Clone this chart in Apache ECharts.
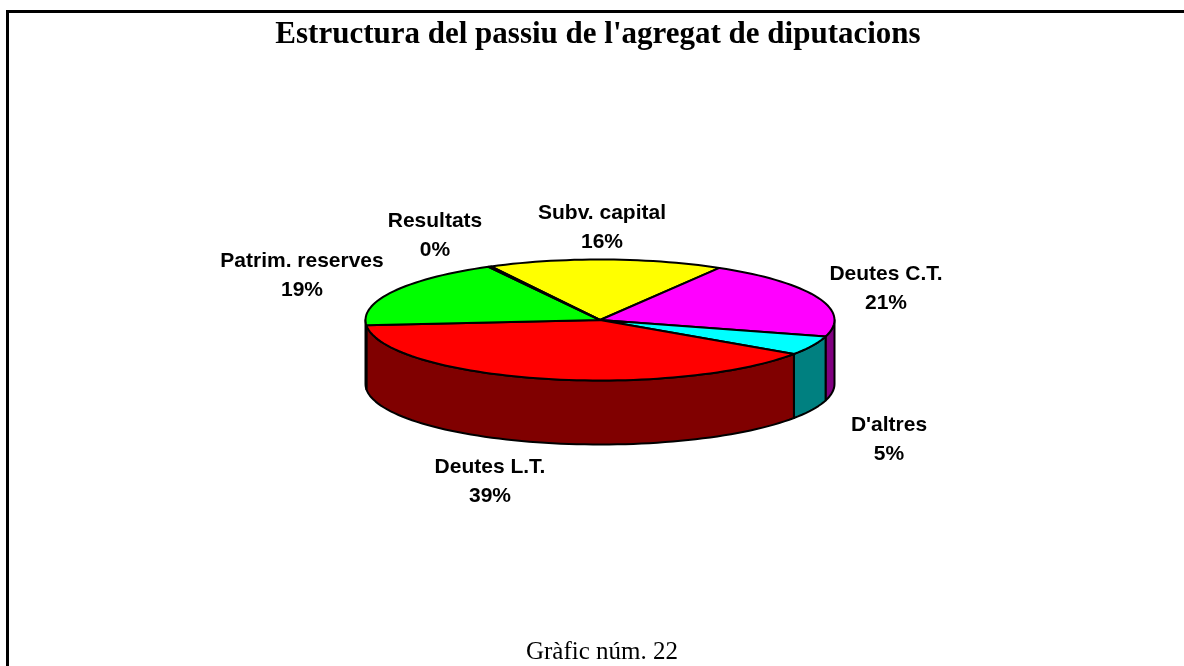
<!DOCTYPE html>
<html>
<head>
<meta charset="utf-8">
<style>
    html, body { margin: 0; padding: 0; background: #fff; }
    #main { width: 1184px; height: 666px; }
</style>
<script src="https://cdn.jsdelivr.net/npm/echarts@6/dist/echarts.min.js"></script>
</head>
<body>
<div id="main"></div>
<script>
    var categories = ['Subv. capital', 'Deutes C.T.', "D'altres", 'Deutes L.T.', 'Patrim. reserves', 'Resultats'];
    var values = [16.2, 20.9, 5.1, 39.1, 18.5, 0.2];
    var topColors = ['#ffff00', '#ff00ff', '#00ffff', '#ff0000', '#00ff00', '#ffffff'];
    var sideColors = ['#808000', '#800080', '#008080', '#800000', '#008000', '#808080'];

    // where each label sits: centre x, centre y of the first line
    var labelPlaces = [[602, 211], [886, 272], [889, 423], [490, 465], [302, 259], [435, 219]];

    var cx = 600, cy = 320, rx = 234.5, ry = 60.5, depth = 64;
    var startAngle = -27.7;
    var total = values.reduce(function (a, b) { return a + b; }, 0);

    // angle is clockwise from the top of the pie
    function rimPoint(deg, drop) {
        var a = deg * Math.PI / 180;
        return [cx + rx * Math.sin(a), cy - ry * Math.cos(a) + drop];
    }

    function arcPoints(from, to, drop) {
        var pts = [];
        var n = Math.max(2, Math.ceil((to - from) / 2));
        for (var i = 0; i <= n; i++) {
            pts.push(rimPoint(from + (to - from) * i / n, drop));
        }
        return pts;
    }

    function renderSlice(params, api) {
        var idx = params.dataIndex;
        var before = 0;
        for (var i = 0; i < idx; i++) before += values[i];
        var from = startAngle + before / total * 360;
        var to = from + api.value(0) / total * 360;
        var children = [];

        // the wall only shows on the front half of the rim
        var wallFrom = Math.max(from, 90), wallTo = Math.min(to, 270);
        if (wallTo > wallFrom) {
            var upper = arcPoints(wallFrom, wallTo, 0);
            var lower = arcPoints(wallFrom, wallTo, depth).reverse();
            children.push({
                type: 'polygon',
                shape: { points: upper.concat(lower) },
                style: { fill: sideColors[idx], stroke: '#000', lineWidth: 2, lineJoin: 'round' }
            });
        }
        children.push({
            type: 'polygon',
            shape: { points: [[cx, cy]].concat(arcPoints(from, to, 0)) },
            style: { fill: topColors[idx], stroke: '#000', lineWidth: 2, lineJoin: 'round' }
        });
        var place = labelPlaces[idx];
        children.push({
            type: 'text',
            x: place[0],
            y: place[1] - 12,
            style: {
                text: categories[idx] + '\n' + Math.round(api.value(0)) + '%',
                fill: '#000',
                font: 'bold 21px "Liberation Sans", Arial, sans-serif',
                lineHeight: 29,
                align: 'center',
                verticalAlign: 'top'
            }
        });
        return { type: 'group', children: children };
    }

    var myecharts = echarts.init(document.getElementById('main'), null, { renderer: 'canvas' });
    var option = {
        animation: false,
        backgroundColor: '#fff',
        graphic: [
            {
                type: 'polyline',
                shape: { points: [[7.5, 666], [7.5, 11.5], [1184, 11.5]] },
                style: { fill: null, stroke: '#000', lineWidth: 3 }
            },
            {
                type: 'text',
                x: 598,
                y: 35,
                style: {
                    text: "Estructura del passiu de l'agregat de diputacions",
                    fill: '#000',
                    font: 'bold 31px "Liberation Serif", "Times New Roman", serif',
                    align: 'center',
                    verticalAlign: 'middle'
                }
            },
            {
                type: 'text',
                x: 602,
                y: 652,
                style: {
                    text: 'Gràfic núm. 22',
                    fill: '#000',
                    font: '25px "Liberation Serif", "Times New Roman", serif',
                    align: 'center',
                    verticalAlign: 'middle'
                }
            }
        ],
        series: [{
            type: 'custom',
            coordinateSystem: 'none',
            renderItem: renderSlice,
            data: values.map(function (v, i) { return { name: categories[i], value: [v] }; })
        }]
    };
    myecharts.setOption(option);
</script>
</body>
</html>
